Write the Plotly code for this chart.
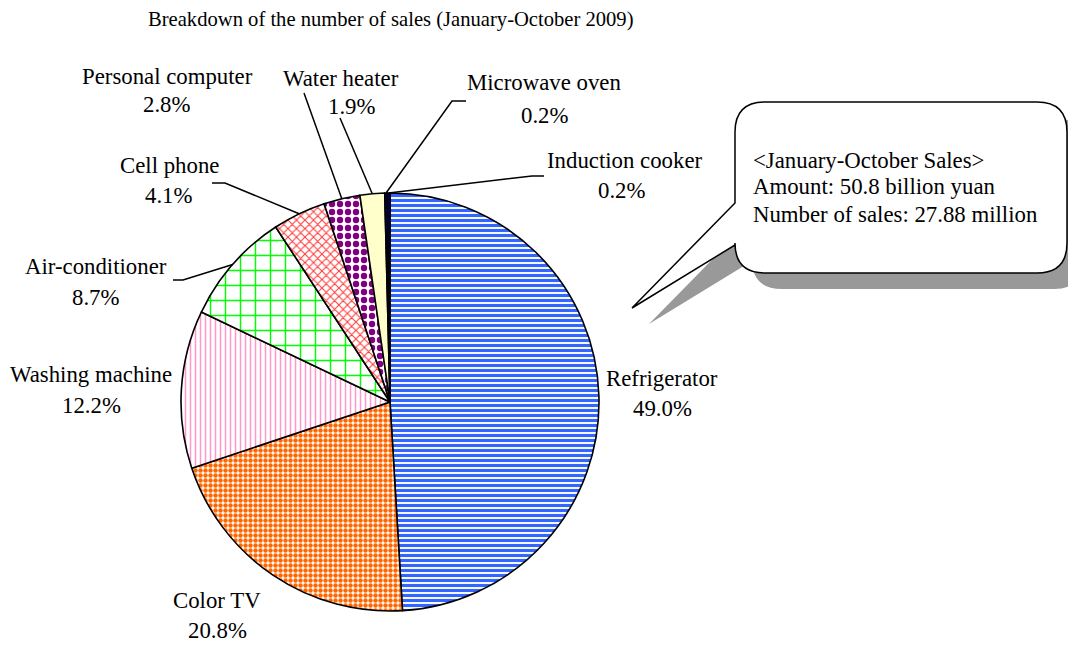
import math
import plotly.graph_objects as go

# ---------------- data ----------------
categories = ["Refrigerator", "Color TV", "Washing machine", "Air-conditioner",
              "Cell phone", "Personal computer", "Water heater",
              "Microwave oven", "Induction cooker"]
shares = [49.0, 20.8, 12.2, 8.7, 4.1, 2.8, 1.9, 0.2, 0.2]
fg_colors = ["#3366FF", "#FF6600", "#FF99CC", "#00FF00", "#FF3333",
             "#800080", "#FFFFCC", "#000080", "#000066"]
pattern_shapes = ["-", ".", "|", "+", "x", ".", "", "", ""]
pattern_sizes = [5, 5, 5, 15, 6, 8, 8, 8, 8]
pattern_solid = [0.62, 0.62, 0.3, 0.18, 0.3, 0.5, 0.3, 0.3, 0.3]
title_text = "Breakdown of the number of sales (January-October 2009)"
box_lines = ["&lt;January-October Sales&gt;",
             "Amount: 50.8 billion yuan",
             "Number of sales: 27.88 million"]

# ---------------- geometry (window pixels) ----------------
OFF = 8                      # default page margin of the html body
W, H = 1076 - OFF, 646 - OFF
CX, CY, R = 390, 402, 209


def px(x):
    return (x - OFF) / W


def py(y):
    return 1 - (y - OFF) / H


FONT = "Liberation Serif, Times New Roman, serif"

fig = go.Figure()
fig.add_trace(go.Pie(
    labels=categories,
    values=shares,
    sort=False,
    direction="clockwise",
    rotation=0,
    textinfo="none",
    hoverinfo="label+percent",
    showlegend=False,
    domain=dict(x=[px(CX - R), px(CX + R)], y=[py(CY + R), py(CY - R)]),
    marker=dict(
        colors=fg_colors,
        line=dict(color="black", width=1.6),
        pattern=dict(shape=pattern_shapes, fillmode="replace",
                     bgcolor=["white"] * len(categories),
                     size=pattern_sizes, solidity=pattern_solid),
    ),
))

# slice mid-angle edge points computed from the data
total = sum(shares)
edge = {}
cum = 0.0
for name, v in zip(categories, shares):
    mid = (cum + v / 2) / total
    th = 2 * math.pi * mid
    edge[name] = (CX + R * math.sin(th), CY - R * math.cos(th))
    cum += v

shapes = []
annotations = []

# label positions (pixel centers of the name line and the value line)
label_pos = {
    "Refrigerator": (662, 378, 662, 408),
    "Color TV": (217, 600, 217, 630),
    "Washing machine": (91, 375, 91, 405),
    "Air-conditioner": (96, 266, 96, 297),
    "Cell phone": (169, 165, 169, 195),
    "Personal computer": (167, 77, 167, 105),
    "Water heater": (341, 78, 352, 107),
    "Microwave oven": (544, 82, 545, 115),
    "Induction cooker": (625, 160, 622, 190),
}
for name, v in zip(categories, shares):
    x1, y1, x2, y2 = label_pos[name]
    annotations.append(dict(x=px(x1), y=py(y1), xref="paper", yref="paper",
                            text=name, showarrow=False, xanchor="center",
                            yanchor="middle", font=dict(family=FONT, size=22.8, color="black")))
    annotations.append(dict(x=px(x2), y=py(y2), xref="paper", yref="paper",
                            text=f"{v:.1f}%", showarrow=False, xanchor="center",
                            yanchor="middle", font=dict(family=FONT, size=22.8, color="black")))

# leader lines: label-side points then to slice edge
leaders = {
    "Personal computer": [(304, 93)],
    "Water heater": [(340, 118)],
    "Microwave oven": [(466, 101), (452, 101)],
    "Induction cooker": [(544, 176), (532, 176)],
    "Cell phone": [(212, 183), (225, 183)],
    "Air-conditioner": [(173, 280), (183, 280)],
}
for name, pts in leaders.items():
    allp = pts + [edge[name]]
    d = "M " + " L ".join(f"{px(x):.5f},{py(y):.5f}" for x, y in allp)
    shapes.append(dict(type="path", xref="paper", yref="paper", path=d,
                       line=dict(color="black", width=1.5)))

# callout bubble (shadow + bubble)
L_, T_, R_, B_, RC = 735, 102, 1067, 273, 30
TAIL = [(735, 245), (632, 308), (735, 203)]


def bubble(dx, dy):
    P = lambda x, y: f"{px(x + dx):.5f},{py(y + dy):.5f}"
    return ("M " + P(L_ + RC, T_) + " L " + P(R_ - RC, T_) +
            " Q " + P(R_, T_) + " " + P(R_, T_ + RC) +
            " L " + P(R_, B_ - RC) +
            " Q " + P(R_, B_) + " " + P(R_ - RC, B_) +
            " L " + P(L_ + RC, B_) +
            " Q " + P(L_, B_) + " " + P(L_, B_ - RC) +
            " L " + P(*TAIL[0]) + " L " + P(*TAIL[1]) + " L " + P(*TAIL[2]) +
            " L " + P(L_, T_ + RC) +
            " Q " + P(L_, T_) + " " + P(L_ + RC, T_) + " Z")


shapes.insert(0, dict(type="path", xref="paper", yref="paper", path=bubble(17, 16),
                      fillcolor="#999999", line=dict(width=0), layer="above"))
shapes.insert(1, dict(type="path", xref="paper", yref="paper", path=bubble(0, 0),
                      fillcolor="white", line=dict(color="black", width=1.5), layer="above"))

for i, t in enumerate(box_lines):
    annotations.append(dict(x=px(751), y=py(160 + 27 * i), xref="paper", yref="paper",
                            text=t, showarrow=False, xanchor="left", yanchor="middle",
                            font=dict(family=FONT, size=22.8, color="black")))

annotations.append(dict(x=px(391), y=py(20), xref="paper", yref="paper",
                        text=title_text, showarrow=False, xanchor="center",
                        yanchor="middle", font=dict(family=FONT, size=20.6, color="black")))

fig.update_layout(
    width=W, height=H,
    margin=dict(l=0, r=0, t=0, b=0),
    paper_bgcolor="white", plot_bgcolor="white",
    shapes=shapes, annotations=annotations,
)
fig.write_html("out.html")
